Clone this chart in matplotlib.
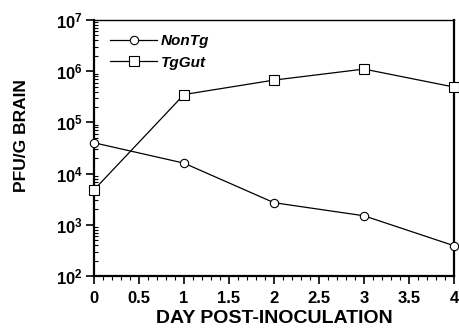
import matplotlib
matplotlib.use("Agg")
import matplotlib.pyplot as plt
from matplotlib.ticker import LogLocator, MultipleLocator, FixedLocator, NullFormatter

days = [0, 1, 2, 3, 4]
nontg = [4.0e4, 1.6e4, 2.7e3, 1.5e3, 3.9e2]
tggut = [4.8e3, 3.5e5, 6.7e5, 1.1e6, 4.9e5]
series_labels = ["NonTg", "TgGut"]
xticks = [0, 0.5, 1, 1.5, 2, 2.5, 3, 3.5, 4]
xticklabels = ["0", "0.5", "1", "1.5", "2", "2.5", "3", "3.5", "4"]
ydecades = [2, 3, 4, 5, 6, 7]

plt.rcParams['font.family'] = ['Liberation Sans', 'DejaVu Sans']
plt.rcParams['mathtext.fontset'] = 'custom'
plt.rcParams['mathtext.rm'] = 'Liberation Sans'
plt.rcParams['mathtext.bf'] = 'Liberation Sans:bold'

fig = plt.figure(figsize=(4.6, 3.32), dpi=100)
ax = fig.add_axes([0.2043, 0.1687, 0.7827, 0.7711])

ax.plot(days, nontg, color='black', lw=0.9, marker='o', ms=6, mfc='white',
        mec='black', mew=0.8, label=series_labels[0], clip_on=False, zorder=3)
ax.plot(days, tggut, color='black', lw=0.9, marker='s', ms=6.5, mfc='white',
        mec='black', mew=0.8, label=series_labels[1], clip_on=False, zorder=3)

ax.set_yscale('log')
ax.set_ylim(1e2, 1e7)
ax.set_xlim(0, 4)

ax.yaxis.set_major_locator(FixedLocator([10.0**d for d in ydecades]))
ax.set_yticklabels([r"$\mathbf{10^{%d}}$" % d for d in ydecades])
ax.yaxis.set_minor_locator(LogLocator(base=10, subs=range(2, 10), numticks=20))
ax.yaxis.set_minor_formatter(NullFormatter())

ax.xaxis.set_major_locator(FixedLocator(xticks))
ax.set_xticklabels(xticklabels)
ax.xaxis.set_minor_locator(MultipleLocator(0.1))

ax.tick_params(axis='y', which='major', direction='out', length=6, width=1.2,
               labelsize=12, pad=2)
ax.tick_params(axis='y', which='minor', direction='in', length=3, width=0.8)
ax.tick_params(axis='x', which='major', direction='out', length=6, width=1.2,
               labelsize=12, pad=5)
ax.tick_params(axis='x', which='minor', direction='out', length=3, width=0.8)
for lab in ax.get_xticklabels() + ax.get_yticklabels():
    lab.set_fontweight('bold')

for s in ['left', 'bottom']:
    ax.spines[s].set_linewidth(1.6)
ax.spines['top'].set_linewidth(1.0)
ax.spines['right'].set_linewidth(1.6)

ax.set_xlabel("DAY POST-INOCULATION", fontsize=14, fontweight='bold', labelpad=3)
ax.set_ylabel("PFU/G BRAIN", fontsize=12.5, fontweight='bold')
ax.yaxis.set_label_coords(-0.18, 0.55)

leg = ax.legend(loc='upper left', frameon=False,
                prop={'style': 'italic', 'weight': 'bold', 'size': 11},
                handlelength=3.1, handletextpad=0.25, borderaxespad=0,
                borderpad=0, labelspacing=0.5, bbox_to_anchor=(0.044, 0.945))

fig.savefig("out.png", dpi=100)
